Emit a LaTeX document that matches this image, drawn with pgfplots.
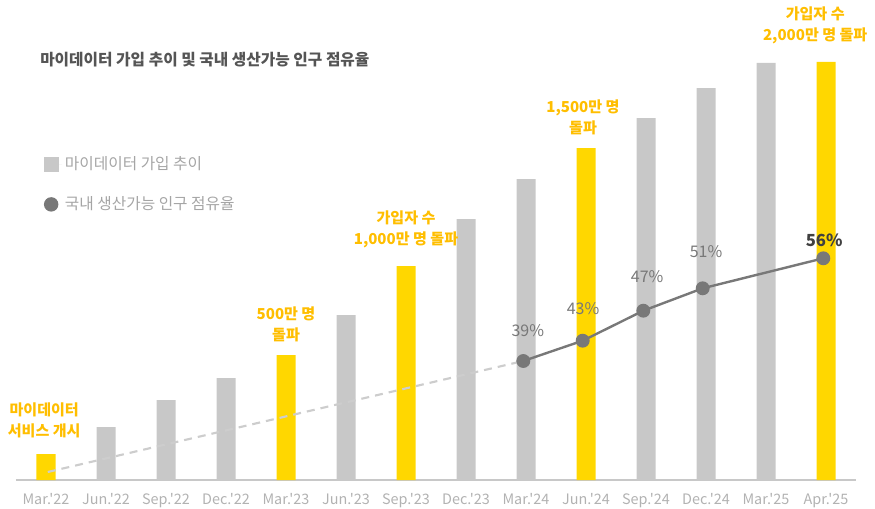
\documentclass[border=0pt]{standalone}
\usepackage{fontspec}
\newfontfamily\kr{Noto Sans CJK KR}
\usepackage{pgfplots}
\usepackage{pgfplotstable}
\pgfplotsset{compat=1.18}
\definecolor{barGray}{RGB}{200,200,200}
\definecolor{barYellow}{RGB}{255,215,0}
\definecolor{noteYellow}{RGB}{255,190,0}
\definecolor{lineGray}{RGB}{120,120,120}
\definecolor{dashGray}{RGB}{205,205,205}
\definecolor{tickGray}{RGB}{178,178,178}
\definecolor{titleGray}{RGB}{85,85,85}
\definecolor{legGray}{RGB}{165,165,165}

% bar heights (arbitrary units, 1 unit = 1 px of the original)
\pgfplotstableread{
x h
1 53
2 80
3 102
5 165
7 261
8 301
10 362
11 392
12 417
}\graybars
\pgfplotstableread{
x h
0 26
4 125
6 214
9 332
13 418
}\yellowbars

\begin{document}
\kr
\begin{tikzpicture}
\useasboundingbox (-12pt,-21pt) rectangle (644.25pt,360pt);
\begin{axis}[
  x=45pt, y=0.75pt,
  xmin=-0.5, xmax=13.5, ymin=0, ymax=480,
  axis x line=bottom, axis y line=none,
  x axis line style={-, draw=barGray, line width=1.5pt},
  ytick=\empty,
  xtick={0,...,13},
  xticklabels={Mar.'22,Jun.'22,Sep.'22,Dec.'22,Mar.'23,Jun.'23,Sep.'23,Dec.'23,Mar.'24,Jun.'24,Sep.'24,Dec.'24,Mar.'25,Apr.'25},
  major tick length=0pt,
  xticklabel style={font=\fontsize{10.8}{12}\selectfont, text=tickGray, anchor=base, yshift=-18.5pt},
  clip=false,
  legend style={at={(rel axis cs:0.033,0.68)}, anchor=north west, draw=none, fill=none,
    inner sep=0pt, row sep=15pt, font=\fontsize{11.8}{13}\selectfont, text=legGray},
  legend cell align=left,
]
\addplot[ybar, bar width=14.25pt, bar shift=0pt, fill=barGray, draw=none,
  legend image code/.code={\fill[barGray] (0pt,-5.6pt) rectangle (11.25pt,5.6pt);
    \path (0pt,0pt) -- (13.5pt,0pt);}]
  table[x=x, y=h] {\graybars};
\addlegendentry{마이데이터 가입 추이}
\addplot[ybar, bar width=14.25pt, bar shift=0pt, fill=barYellow, draw=none, forget plot]
  table[x=x, y=h] {\yellowbars};
\addplot[dashGray, line width=1.6pt, dash pattern=on 6pt off 4.5pt, forget plot]
  coordinates {(0.03,8) (7.955,119)};
\addplot[lineGray, line width=1.8pt, mark=*, mark size=4.3pt,
  mark options={fill=lineGray, draw=lineGray, solid},
  legend image code/.code={\fill[lineGray] (5.25pt,0pt) circle (4.5pt);}]
  coordinates {(7.955,119) (8.945,139.3) (9.955,169.3) (10.945,191.7) (12.955,221.7)};
\addlegendentry{국내 생산가능 인구 점유율}

% percentage labels
\begin{scope}[every node/.style={font=\fontsize{12}{13}\selectfont, text=lineGray}]
\node at (axis cs:8.03,149) {39\%};
\node at (axis cs:8.95,171) {43\%};
\node at (axis cs:10.02,203) {47\%};
\node at (axis cs:11.0,228) {51\%};
\node[text=black!75] at (axis cs:12.97,240) {\fontsize{12.5}{13}\selectfont\bfseries 56\%};
\end{scope}

% milestone notes
\begin{scope}[every node/.style={font=\fontsize{11.3}{15.75}\selectfont\bfseries, text=noteYellow, align=center}]
\node at (axis cs:-0.03,60) {마이데이터\\서비스 개시};
\node at (axis cs:4.0,156) {500만 명\\돌파};
\node at (axis cs:6.0,250.5) {가입자 수\\1,000만 명 돌파};
\node at (axis cs:8.95,362.5) {1,500만 명\\돌파};
\node at (axis cs:12.82,454.5) {가입자 수\\2,000만 명 돌파};
\end{scope}

\node[anchor=west, inner sep=0pt, font=\fontsize{11.8}{13}\selectfont\bfseries, text=titleGray]
  at (axis cs:-0.1,420) {마이데이터 가입 추이 및 국내 생산가능 인구 점유율};
\end{axis}
\end{tikzpicture}
\end{document}
